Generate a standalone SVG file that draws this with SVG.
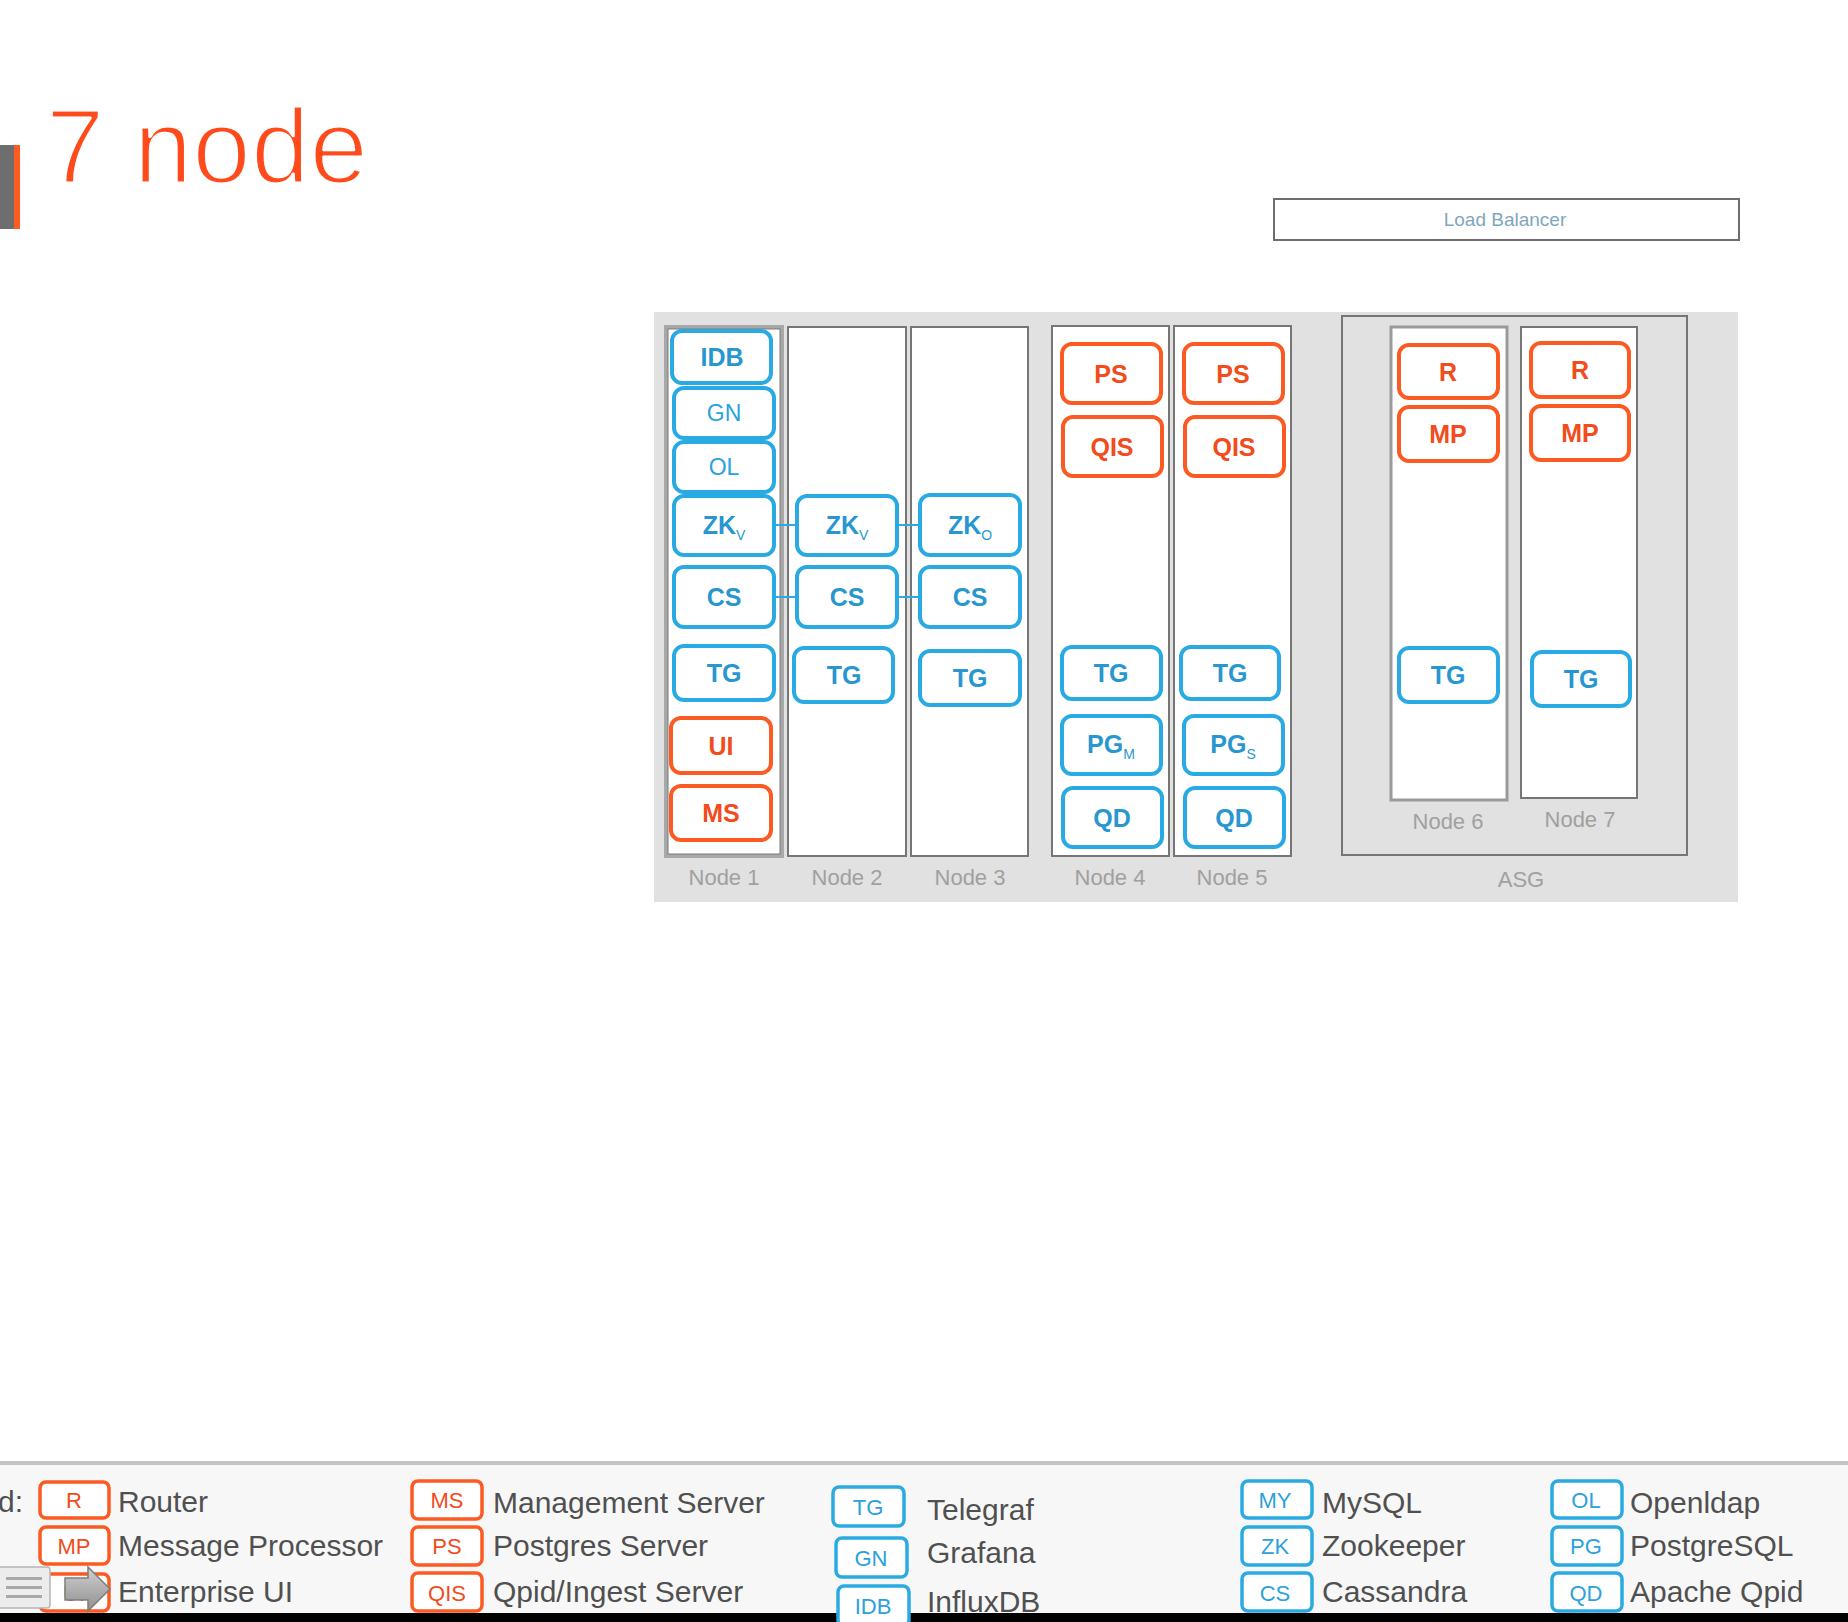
<svg xmlns="http://www.w3.org/2000/svg" width="1848" height="1622" viewBox="0 0 1848 1622">
<defs>
<style>
.col{fill:#fff;stroke:#767676;stroke-width:2}
.bb{fill:#fff;stroke:#2aaae2;stroke-width:4}
.ob{fill:#fff;stroke:#fb5a22;stroke-width:4}
.bt{fill:#2897d0;font-family:"Liberation Sans",Arial,sans-serif;font-weight:bold;font-size:25px;text-anchor:middle}
.btr{fill:#2aa2dc;font-family:"Liberation Sans",Arial,sans-serif;font-size:23px;text-anchor:middle}
.ot{fill:#f24b1c;font-family:"Liberation Sans",Arial,sans-serif;font-weight:bold;font-size:25px;text-anchor:middle}
.sub{font-weight:normal;font-size:14px}
.lbl{fill:#a0a0a0;font-family:"Liberation Sans",Arial,sans-serif;font-size:22px;text-anchor:middle}
.leg{fill:#505050;font-family:"Liberation Sans",Arial,sans-serif;font-size:30px}
.lbb{fill:#fff;stroke:#2aaae2;stroke-width:3.5}
.lob{fill:#fff;stroke:#fb5a22;stroke-width:3.5}
.lbt{fill:#2aa2dc;font-family:"Liberation Sans",Arial,sans-serif;font-size:22px;text-anchor:middle}
.lot{fill:#f24b1c;font-family:"Liberation Sans",Arial,sans-serif;font-size:22px;text-anchor:middle}
.conn{stroke:#2aaae2;stroke-width:2;fill:none}
</style>
<linearGradient id="arr" x1="0" y1="0" x2="0" y2="1">
<stop offset="0" stop-color="#d0d0d0"/>
<stop offset="1" stop-color="#8f8f8f"/>
</linearGradient>
</defs>
<rect x="0" y="0" width="1848" height="1622" fill="#fff"/>

<g id="title">
<rect x="0" y="145" width="14" height="84" fill="#6e6e6e"/>
<rect x="14" y="145" width="6" height="84" fill="#ff5a1f"/>
<text x="46" y="183" fill="#ff4a1c" stroke="#fff" stroke-width="3" stroke-linejoin="round" font-family="'Liberation Sans',Arial,sans-serif" font-size="106" textLength="322" lengthAdjust="spacingAndGlyphs">7 node</text>
</g>

<g id="load-balancer">
<rect x="1274" y="199" width="465" height="41" fill="#fff" stroke="#6e6e6e" stroke-width="2"/>
<text x="1505" y="226" fill="#7fa6bd" font-family="'Liberation Sans',Arial,sans-serif" font-size="19" text-anchor="middle">Load Balancer</text>
</g>

<rect id="panel" x="654" y="312" width="1084" height="590" fill="#e1e1e1"/>

<g id="asg">
<rect x="1342" y="316" width="345" height="539" fill="none" stroke="#767676" stroke-width="2"/>
<text class="lbl" x="1521" y="887">ASG</text>
</g>

<g id="node1">
<rect x="666" y="327" width="116" height="529" fill="#fff" stroke="#a8a8a8" stroke-width="4"/>
<rect x="668" y="329" width="112" height="525" fill="none" stroke="#7a7a7a" stroke-width="1"/>
<text class="lbl" x="724" y="885">Node 1</text>
</g>
<g id="node2">
<rect class="col" x="788" y="327" width="118" height="529"/>
<text class="lbl" x="847" y="885">Node 2</text>
</g>
<g id="node3">
<rect class="col" x="911" y="327" width="117" height="529"/>
<text class="lbl" x="970" y="885">Node 3</text>
</g>
<g id="node4">
<rect class="col" x="1052" y="326" width="117" height="530"/>
<text class="lbl" x="1110" y="885">Node 4</text>
</g>
<g id="node5">
<rect class="col" x="1174" y="326" width="117" height="530"/>
<text class="lbl" x="1232" y="885">Node 5</text>
</g>
<g id="node6">
<rect x="1391" y="327" width="116" height="473" fill="#fff" stroke="#9a9a9a" stroke-width="3"/>
<text class="lbl" x="1448" y="829">Node 6</text>
</g>
<g id="node7">
<rect class="col" x="1521" y="327" width="116" height="471"/>
<text class="lbl" x="1580" y="827">Node 7</text>
</g>

<g id="connectors">
<line class="conn" x1="774" y1="525" x2="797" y2="525"/>
<line class="conn" x1="897" y1="525" x2="920" y2="525"/>
<line class="conn" x1="774" y1="597" x2="797" y2="597"/>
<line class="conn" x1="897" y1="597" x2="920" y2="597"/>
</g>

<!-- Node 1 services -->
<g id="n1-idb"><rect class="bb" x="672" y="331" width="99" height="52" rx="10"/><text class="bt" x="722" y="366" font-size="26">IDB</text></g>
<g id="n1-gn"><rect class="bb" x="674" y="388" width="100" height="50" rx="10"/><text class="btr" x="724" y="421">GN</text></g>
<g id="n1-ol"><rect class="bb" x="674" y="442" width="100" height="50" rx="10"/><text class="btr" x="724" y="475">OL</text></g>
<g id="n1-zk"><rect class="bb" x="674" y="496" width="100" height="59" rx="10"/><text class="bt" x="724" y="534">ZK<tspan class="sub" dy="6">V</tspan></text></g>
<g id="n1-cs"><rect class="bb" x="674" y="567" width="100" height="60" rx="10"/><text class="bt" x="724" y="606">CS</text></g>
<g id="n1-tg"><rect class="bb" x="674" y="646" width="100" height="54" rx="10"/><text class="bt" x="724" y="682">TG</text></g>
<g id="n1-ui"><rect class="ob" x="671" y="718" width="100" height="55" rx="10"/><text class="ot" x="721" y="755">UI</text></g>
<g id="n1-ms"><rect class="ob" x="671" y="786" width="100" height="54" rx="10"/><text class="ot" x="721" y="822">MS</text></g>

<!-- Node 2 services -->
<g id="n2-zk"><rect class="bb" x="797" y="496" width="100" height="59" rx="10"/><text class="bt" x="847" y="534">ZK<tspan class="sub" dy="6">V</tspan></text></g>
<g id="n2-cs"><rect class="bb" x="797" y="567" width="100" height="60" rx="10"/><text class="bt" x="847" y="606">CS</text></g>
<g id="n2-tg"><rect class="bb" x="794" y="648" width="99" height="54" rx="10"/><text class="bt" x="844" y="684">TG</text></g>

<!-- Node 3 services -->
<g id="n3-zk"><rect class="bb" x="920" y="495" width="100" height="60" rx="10"/><text class="bt" x="970" y="534">ZK<tspan class="sub" dy="6">O</tspan></text></g>
<g id="n3-cs"><rect class="bb" x="920" y="567" width="100" height="60" rx="10"/><text class="bt" x="970" y="606">CS</text></g>
<g id="n3-tg"><rect class="bb" x="920" y="651" width="100" height="54" rx="10"/><text class="bt" x="970" y="687">TG</text></g>

<!-- Node 4 services -->
<g id="n4-ps"><rect class="ob" x="1062" y="344" width="99" height="59" rx="10"/><text class="ot" x="1111" y="383">PS</text></g>
<g id="n4-qis"><rect class="ob" x="1063" y="417" width="99" height="59" rx="10"/><text class="ot" x="1112" y="456">QIS</text></g>
<g id="n4-tg"><rect class="bb" x="1062" y="647" width="99" height="52" rx="10"/><text class="bt" x="1111" y="682">TG</text></g>
<g id="n4-pg"><rect class="bb" x="1062" y="716" width="99" height="58" rx="10"/><text class="bt" x="1111" y="753">PG<tspan class="sub" dy="6">M</tspan></text></g>
<g id="n4-qd"><rect class="bb" x="1063" y="788" width="99" height="59" rx="10"/><text class="bt" x="1112" y="827">QD</text></g>

<!-- Node 5 services -->
<g id="n5-ps"><rect class="ob" x="1184" y="344" width="99" height="59" rx="10"/><text class="ot" x="1233" y="383">PS</text></g>
<g id="n5-qis"><rect class="ob" x="1185" y="417" width="99" height="59" rx="10"/><text class="ot" x="1234" y="456">QIS</text></g>
<g id="n5-tg"><rect class="bb" x="1181" y="647" width="98" height="52" rx="10"/><text class="bt" x="1230" y="682">TG</text></g>
<g id="n5-pg"><rect class="bb" x="1184" y="716" width="99" height="58" rx="10"/><text class="bt" x="1233" y="753">PG<tspan class="sub" dy="6">S</tspan></text></g>
<g id="n5-qd"><rect class="bb" x="1185" y="788" width="99" height="59" rx="10"/><text class="bt" x="1234" y="827">QD</text></g>

<!-- Node 6 services -->
<g id="n6-r"><rect class="ob" x="1399" y="345" width="99" height="53" rx="10"/><text class="ot" x="1448" y="381">R</text></g>
<g id="n6-mp"><rect class="ob" x="1399" y="407" width="99" height="54" rx="10"/><text class="ot" x="1448" y="443">MP</text></g>
<g id="n6-tg"><rect class="bb" x="1399" y="648" width="99" height="54" rx="10"/><text class="bt" x="1448" y="684">TG</text></g>

<!-- Node 7 services -->
<g id="n7-r"><rect class="ob" x="1531" y="343" width="98" height="54" rx="10"/><text class="ot" x="1580" y="379">R</text></g>
<g id="n7-mp"><rect class="ob" x="1531" y="406" width="98" height="54" rx="10"/><text class="ot" x="1580" y="442">MP</text></g>
<g id="n7-tg"><rect class="bb" x="1532" y="652" width="98" height="54" rx="10"/><text class="bt" x="1581" y="688">TG</text></g>

<!-- Legend -->
<g id="legend">
<rect x="0" y="1463" width="1848" height="150" fill="#f7f7f7"/>
<rect x="0" y="1461" width="1848" height="4" fill="#c3c3c3"/>
<rect x="0" y="1613" width="1848" height="9" fill="#000"/>
<text class="leg" x="-2" y="1512">d:</text>

<rect class="lob" x="40" y="1482" width="69" height="36" rx="6"/><text class="lot" x="74" y="1508">R</text>
<text class="leg" x="118" y="1512">Router</text>
<rect class="lob" x="40" y="1527" width="69" height="37" rx="6"/><text class="lot" x="74" y="1554">MP</text>
<text class="leg" x="118" y="1556">Message Processor</text>
<rect class="lob" x="40" y="1574" width="69" height="37" rx="6"/><text class="lot" x="74" y="1601">UI</text>
<text class="leg" x="118" y="1602">Enterprise UI</text>

<rect class="lob" x="412" y="1481" width="70" height="38" rx="6"/><text class="lot" x="447" y="1508">MS</text>
<text class="leg" x="493" y="1513">Management Server</text>
<rect class="lob" x="412" y="1527" width="70" height="38" rx="6"/><text class="lot" x="447" y="1554">PS</text>
<text class="leg" x="493" y="1556">Postgres Server</text>
<rect class="lob" x="412" y="1573" width="70" height="38" rx="6"/><text class="lot" x="447" y="1601">QIS</text>
<text class="leg" x="493" y="1602">Qpid/Ingest Server</text>

<rect class="lbb" x="833" y="1487" width="71" height="39" rx="6"/><text class="lbt" x="868" y="1515">TG</text>
<text class="leg" x="927" y="1520">Telegraf</text>
<rect class="lbb" x="836" y="1538" width="71" height="39" rx="6"/><text class="lbt" x="871" y="1566">GN</text>
<text class="leg" x="927" y="1563">Grafana</text>
<rect class="lbb" x="838" y="1586" width="71" height="40" rx="6"/><text class="lbt" x="873" y="1614">IDB</text>
<text class="leg" x="927" y="1612">InfluxDB</text>

<rect class="lbb" x="1242" y="1481" width="70" height="37" rx="6"/><text class="lbt" x="1275" y="1508">MY</text>
<text class="leg" x="1322" y="1513">MySQL</text>
<rect class="lbb" x="1242" y="1527" width="70" height="38" rx="6"/><text class="lbt" x="1275" y="1554">ZK</text>
<text class="leg" x="1322" y="1556">Zookeeper</text>
<rect class="lbb" x="1242" y="1573" width="70" height="38" rx="6"/><text class="lbt" x="1275" y="1601">CS</text>
<text class="leg" x="1322" y="1602">Cassandra</text>

<rect class="lbb" x="1552" y="1481" width="70" height="37" rx="6"/><text class="lbt" x="1586" y="1508">OL</text>
<text class="leg" x="1630" y="1513">Openldap</text>
<rect class="lbb" x="1552" y="1527" width="70" height="38" rx="6"/><text class="lbt" x="1586" y="1554">PG</text>
<text class="leg" x="1630" y="1556">PostgreSQL</text>
<rect class="lbb" x="1552" y="1573" width="70" height="38" rx="6"/><text class="lbt" x="1586" y="1601">QD</text>
<text class="leg" x="1630" y="1602">Apache Qpid</text>
</g>

<g id="viewer-overlay">
<rect x="-6" y="1567" width="56" height="41" rx="3" fill="#ececec" stroke="#b5b5b5" stroke-width="1.5"/>
<rect x="6" y="1577" width="36" height="3" fill="#a8a8a8"/>
<rect x="6" y="1586" width="36" height="3" fill="#a8a8a8"/>
<rect x="6" y="1595" width="36" height="3" fill="#a8a8a8"/>
<polygon points="65,1578 88,1578 88,1567 110,1589 88,1611 88,1600 65,1600" fill="url(#arr)" stroke="#7d7d7d" stroke-width="1.5"/>
</g>
</svg>
